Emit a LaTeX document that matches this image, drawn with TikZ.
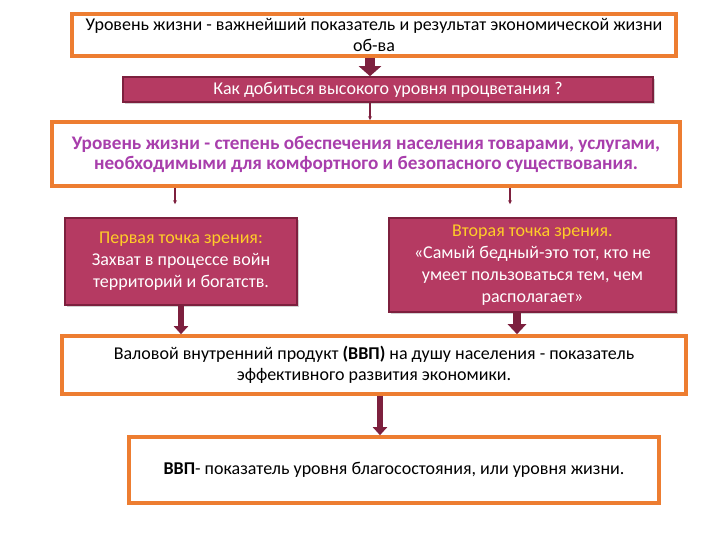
\documentclass[tikz,border=0pt]{standalone}
\usepackage{fontspec}
\setmainfont{Carlito}
\usetikzlibrary{arrows.meta,positioning,shadows}
\definecolor{LVorange}{RGB}{237,125,49}
\definecolor{LVmaroon}{RGB}{181,58,98}
\definecolor{LVdark}{RGB}{125,32,62}
\definecolor{LVpurple}{RGB}{168,62,172}
\definecolor{LVgold}{RGB}{255,205,40}
\tikzset{
  obox/.style={draw=LVorange,line width=1.8pt,fill=white,align=center,inner sep=2pt,
               font=\fontsize{9}{10.5}\selectfont,
               drop shadow={shadow xshift=0.8pt,shadow yshift=-0.8pt,opacity=0.15}},
  mbox/.style={draw=LVdark,line width=0.8pt,fill=LVmaroon,text=white,align=center,inner sep=2pt,
               font=\fontsize{9}{11}\selectfont,
               drop shadow={shadow xshift=0.9pt,shadow yshift=-0.9pt,opacity=0.35}},
  blk/.style={-{Triangle[length=5pt,width=11pt]},line width=5pt,draw=LVdark},
  blks/.style={-{Triangle[length=4pt,width=7pt]},line width=3pt,draw=LVdark},
  tl/.style={-{Stealth[length=2pt,width=2pt]},line width=0.6pt,draw=LVdark}
}
\begin{document}
\begin{tikzpicture}[x=0.5pt,y=-0.5pt]
  \useasboundingbox[fill=white] (0,0) rectangle (720,540);
  % boxes
  \node[obox,minimum width=302pt,minimum height=21pt] (top) at (374,35)
    {Уровень жизни - важнейший показатель и результат экономической жизни\\об-ва};
  \node[mbox,minimum width=265pt,minimum height=12.5pt] (mq) at (388,89.5)
    {Как добиться высокого уровня процветания ?};
  \node[obox,minimum width=314pt,minimum height=32pt,text=LVpurple,font=\fontsize{9.6}{10}\selectfont\bfseries] (def) at (366,154)
    {Уровень жизни - степень обеспечения населения товарами, услугами,\\необходимыми для комфортного и безопасного существования.};
  \node[mbox,minimum width=116pt,minimum height=43.5pt] (left) at (181,261.5)
    {\textcolor{LVgold}{Первая точка зрения:}\\Захват в процессе войн\\территорий и богатств.};
  \node[mbox,minimum width=143.5pt,minimum height=47pt] (right) at (532.5,265)
    {\textcolor{LVgold}{Вторая точка зрения.}\\«Самый бедный-это тот, кто не\\умеет пользоваться тем, чем\\располагает»};
  \node[obox,minimum width=312pt,minimum height=29pt] (gdp) at (374,365)
    {Валовой внутренний продукт \textbf{(ВВП)} на душу населения - показатель\\эффективного развития экономики.};
  \node[obox,minimum width=265pt,minimum height=33pt] (last) at (394,470)
    {\textbf{ВВП}- показатель уровня благосостояния, или уровня жизни.};
  % connectors
  \draw[blk] ([xshift=-2pt]top.south) -- ([xshift=-2pt]top.south |- mq.north);
  \draw[tl] ([xshift=-9pt]mq.south) -- ([xshift=-9pt]mq.south |- def.north);
  \draw[tl,shorten >=6.5pt] ([xshift=-3pt]left.north |- def.south) -- ([xshift=-3pt]left.north);
  \draw[tl,shorten >=6.5pt] ([xshift=-11.25pt]right.north |- def.south) -- ([xshift=-11.25pt]right.north);
  \draw[blks] (left.south) -- (left.south |- gdp.north);
  \draw[blk,line width=4pt,-{Triangle[length=5pt,width=9pt]}] ([xshift=-7.75pt]right.south) -- ([xshift=-7.75pt]right.south |- gdp.north);
  \draw[blks] ([xshift=3pt]gdp.south) -- ([xshift=3pt]gdp.south |- last.north);
\end{tikzpicture}
\end{document}
